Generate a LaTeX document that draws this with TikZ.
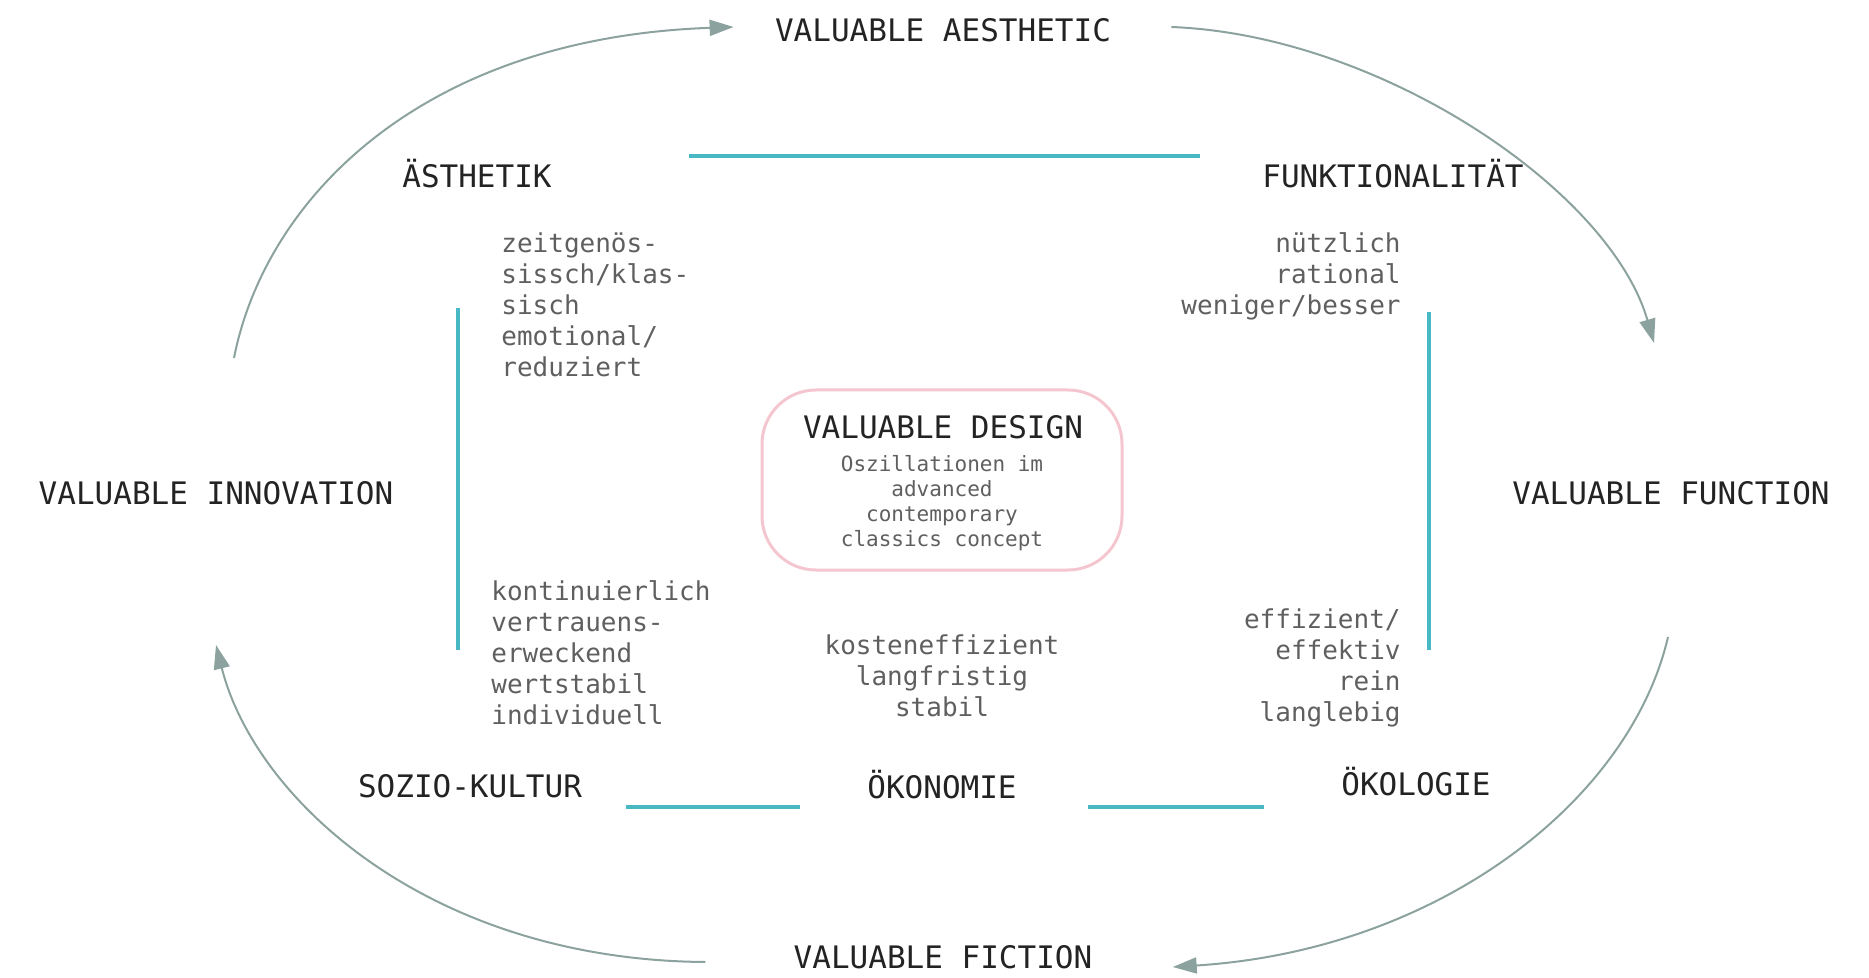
\documentclass[tikz,border=0pt]{standalone}
\usepackage{fontspec}
\setmonofont{DejaVu Sans Mono}
\usetikzlibrary{arrows.meta, positioning, calc}
\definecolor{valueCyan}{RGB}{72, 184, 196}
\definecolor{valueGray}{RGB}{140, 162, 158}
\definecolor{valuePink}{RGB}{244, 198, 208}
\definecolor{valueText}{RGB}{35, 35, 35}
\definecolor{valueSoft}{RGB}{95, 95, 95}
\tikzset{
    pole/.style={font=\ttfamily\fontsize{15.5}{18}\selectfont, text=valueText, inner sep=0pt, text height=11.3pt, text depth=0pt},
    facet/.style={font=\ttfamily\fontsize{13}{15.5}\selectfont, text=valueSoft, inner sep=0pt},
    note/.style={font=\ttfamily\fontsize{10.5}{12.5}\selectfont, text=valueSoft, inner sep=0pt, align=center},
    axisLine/.style={draw=valueCyan, line width=2pt},
    loopArrow/.style={draw=valueGray, line width=1pt, -{Triangle[length=12pt, width=8pt]}}
}

\begin{document}
\begin{tikzpicture}[x=0.5pt, y=-0.5pt]
        \useasboundingbox (0,0) rectangle (1869,978);

        \node[pole] (aesthetic) at (943,30) {VALUABLE AESTHETIC};
        \node[pole] (innovation) at (216,493) {VALUABLE INNOVATION};
        \node[pole] (function) at (1671,493) {VALUABLE FUNCTION};
        \node[pole] (fiction) at (943,957) {VALUABLE FICTION};

        \node[pole] (aesthetik) at (477,176) {ÄSTHETIK};
        \node[pole] (funktion) at (1393,176) {FUNKTIONALITÄT};
        \node[pole] (sozio) at (470,786) {SOZIO-KULTUR};
        \node[pole] (oekonomie) at (942,787) {ÖKONOMIE};
        \node[pole] (oekologie) at (1416,784) {ÖKOLOGIE};

        \node[draw=valuePink, line width=1.5pt, rounded corners=27pt, minimum width=180pt, minimum height=90pt] (design) at (942,480) {};
        \node[pole] (designTitle) at (943,427) {VALUABLE DESIGN};
        \node[note, anchor=north] (designText) at (942,455) {Oszillationen im\\advanced\\contemporary\\classics concept};

        \node[facet, anchor=north west, align=left] (zeitText) at (501,232) {zeitgenös-\\sissch/klas-\\sisch\\emotional/\\reduziert};
        \node[facet, anchor=north east, align=right] (nutzText) at (1401,232) {nützlich\\rational\\weniger/besser};
        \node[facet, anchor=north west, align=left] (kontText) at (491,580) {kontinuierlich\\vertrauens-\\erweckend\\wertstabil\\individuell};
        \node[facet, anchor=north, align=center] (kostText) at (942,634) {kosteneffizient\\langfristig\\stabil};
        \node[facet, anchor=north east, align=right] (effText) at (1401,608) {effizient/\\effektiv\\rein\\langlebig};

        \coordinate (topL) at ($(aesthetik.east)+(137,-20)$);
        \coordinate (topR) at ($(funktion.west)+(-62,-20)$);
        \coordinate (leftT) at (458,308);
        \coordinate (leftB) at (458,650);
        \coordinate (rightT) at (1429,312);
        \coordinate (rightB) at (1429,650);
        \coordinate (botA) at ($(sozio.east)+(44,21)$);
        \coordinate (botB) at ($(oekonomie.west)+(-67,20)$);
        \coordinate (botC) at ($(oekonomie.east)+(71,20)$);
        \coordinate (botD) at ($(oekologie.west)+(-77,23)$);
        \draw[axisLine] (topL) -- (topR);
        \draw[axisLine] (leftT) -- (leftB);
        \draw[axisLine] (rightT) -- (rightB);
        \draw[axisLine] (botA) -- (botB);
        \draw[axisLine] (botC) -- (botD);

        \coordinate (innovOut) at ($(innovation)+(18,-135)$);
        \coordinate (innovIn) at ($(innovation)+(0,152)$);
        \coordinate (aesIn) at ($(aesthetic.west)+(-41,-3)$);
        \coordinate (aesOut) at ($(aesthetic.east)+(60,-3)$);
        \coordinate (funcIn) at ($(function)+(-17,-150)$);
        \coordinate (funcOut) at ($(function)+(-3,144)$);
        \coordinate (ficIn) at ($(fiction.east)+(80,10)$);
        \coordinate (ficOut) at ($(fiction.west)+(-88,5)$);
        \draw[loopArrow] (innovOut) .. controls (265,200) and (420,38) .. (aesIn);
        \draw[loopArrow] (aesOut) .. controls (1380,35) and (1610,190) .. (funcIn);
        \draw[loopArrow] (funcOut) .. controls (1630,800) and (1440,950) .. (ficIn);
        \draw[loopArrow] (ficOut) .. controls (430,960) and (255,800) .. (innovIn);
    \end{tikzpicture}
\end{document}
